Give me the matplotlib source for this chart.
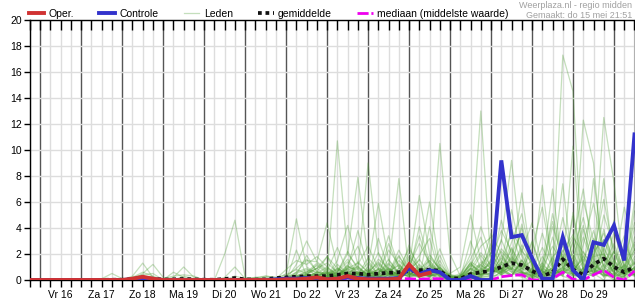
import numpy as np
import matplotlib
matplotlib.use('Agg')
import matplotlib.pyplot as plt
from matplotlib.ticker import MultipleLocator, FuncFormatter, NullFormatter

plt.rcParams['font.family'] = ['Liberation Sans', 'DejaVu Sans']

# 6-hourly time steps, hours relative to Vr 16 00:00 (first step = do 15 18:00)
uren = np.arange(-6, 349, 6)
dag_labels = ['Vr 16', 'Za 17', 'Zo 18', 'Ma 19', 'Di 20', 'Wo 21', 'Do 22',
              'Vr 23', 'Za 24', 'Zo 25', 'Ma 26', 'Di 27', 'Wo 28', 'Do 29']

oper = [0, 0,0,0,0, 0,0,0,0, 0,.1,.25,.1, 0,0,0,0, 0,0,0,0, 0,0,0,0,
        .05,.05,.1,.2, .05,.1,.3,.1, .05,.05,.05,.1, 1.2,.35,.55]

controle = [0, 0,0,0,0, 0,0,0,0, 0,.05,.15,.05, 0,0,0,0, 0,0,0,0, 0,0,0,.05,
            .1,.1,.15,.1, .05,.1,.2,.15, .1,.1,.1,.15, .9,.45,.75,.6,
            0,0,.3,0, 0,9.2,3.3,3.45, 1.7,.1,.1,3.3, .75,0,2.9,2.7, 4.2,1.5,11.2]

gemiddelde = [0, 0,0,0,0, 0,0,.01,.02, .02,.08,.15,.1, .03,.05,.08,.05, .02,.02,.08,.15,
              .05,.03,.05,.15, .2,.25,.3,.3, .3,.4,.5,.5, .4,.5,.55,.6, .7,.75,.8,.7,
              .15,.1,.45,.6, .7,1.0,1.3,1.15, .7,.3,.6,1.6, .8,.4,1.2,1.65, 1.0,.6,1.0]

mediaan = [0, 0,0,0,0, 0,0,0,0, 0,0,0,0, 0,0,0,0, 0,0,0,0, 0,0,0,0,
           0,0,0,0, 0,0,.05,.05, 0,0,0,.1, .1,.05,.1,.1,
           0,0,0,0, 0,.25,.35,.4, 0,0,.1,.6, .05,0,.4,.75, .2,0,.7]

leden = [
    [0, 0,0,0,0, 0,0,.1,.5, .1,0,0,0, 0,0,0,0, 0,0,0,0, 0,0,0,0, 0,.2,.4,.1, 0,.3,1.1,.6, .2,0,.4,1.5, .8,.3,0,.6, 0,0,.2,1.2, 2.1,.8,.3,1.5, .4,0,1.8,2.6, 1.1,.3,2.2,3.1, .9,0,.5],
    [0, 0,0,0,0, 0,0,0,0, 0,.3,1.3,.2, 0,0,0,0, 0,0,0,0, 0,0,0,0, 0,0,.2,.6, 1.8,.9,.3,.2, 0,.5,2.3,1.2, .4,.8,.6,0, 0,.2,.9,.4, 1.5,3.8,2.2,.6, 0,.8,4.1,1.7, .6,1.9,.5,0, 1.2,3.4,.8],
    [0, 0,0,0,0, 0,0,0,0, 0,0,.5,1.2, .2,0,0,0, 0,0,0,0, 0,0,0,0, .3,.9,1.6,.7, .2,1.2,.5,.3, .8,.2,0,.9, 2.4,1.1,.3,.6, 0,0,.5,.2, 0,.7,2.9,5.1, 1.3,.4,0,.9, 2.3,4.8,1.6,.5, 0,.7,2.1],
    [0, 0,0,0,0, 0,0,0,0, 0,.2,.6,.3, 0,0,.3,.1, 0,0,0,0, 0,0,.1,.1, 0,2.3,.3,.1, 0,.4,.9,1.3, .6,.2,.8,.4, 1.1,2.8,1.3,.2, 0,.3,1.1,2.6, 3.3,1.4,.6,.2, 0,.4,.6,2.2, 3.5,1.2,.4,1.1, .3,1.6,4.4],
    [0, 0,0,0,0, 0,0,0,0, 0,.2,.4,.5, 0,.6,.2,0, 0,0,0,0, 0,0,0,0, .5,4.7,1.0,.5, .3,.8,.2,.5, 1.3,.4,.2,.7, .2,.6,1.9,.8, 0,0,.2,.8, 1.2,.5,1.6,.9, 3.0,.7,0,.5, 1.4,.6,3.2,1.8, 0,.3,1.0],
    [0, 0,0,0,0, 0,0,0,0, 0,0,0,0, 0,.2,1.0,.2, 0,0,0,0, .1,.2,.1,0, 0,1.2,3.0,1.4, .8,.3,.6,.2, 0,.5,1.2,.6, 1.8,.9,.2,1.0, .3,0,.8,.4, .9,2.2,1.3,4.0, 1.1,.2,0,1.3, .4,2.7,5.9,2.1, .6,0,.8],
    [0, 0,0,0,0, 0,0,0,0, 0,0,0,0, .1,.3,.4,.3, 0,0,2.0,4.6, .2,0,0,0, 0,.6,1.5,1.4, 4.4,1.0,.3,.6, .2,0,.4,1.8, .7,1.6,.4,.2, 0,0,.3,1.4, .6,1.3,3.7,1.2, .4,0,1.1,.3, 0,.9,1.9,6.2, 2.0,.4,1.3],
    [0, 0,0,0,0, 0,0,0,0, 0,0,0,0, 0,0,0,0, 0,0,.2,1.0, .1,0,.2,.1, .8,1.5,1.2,1.8, 1.0,.3,1.1,.4, .6,1.4,.5,.3, .9,.2,1.5,.6, 0,.4,1.3,.5, 2.1,.8,.3,1.6, .2,1.8,.6,.3, 5.2,1.3,.5,2.4, 1.0,.2,3.3],
    [0, 0,0,0,0, 0,0,0,0, 0,0,0,0, 0,0,0,0, 0,0,0,.3, .1,.2,.3,.2, .2,.5,.8,.6, .5,10.7,2.0,1.0, .3,.8,.4,.2, 1.2,.6,.3,.8, 0,.2,.6,1.9, .8,3.1,1.2,.5, 0,1.2,4.5,1.4, .6,.2,1.9,3.6, 1.5,.4,2.4],
    [0, 0,0,0,0, 0,0,0,0, 0,0,0,0, 0,0,0,0, 0,0,0,0, 0,0,.1,0, 0,0,.4,.9, .3,1.5,4.2,1.2, 2.6,.9,.5,.3, .9,3.4,1.1,.4, .2,0,.9,.5, 1.6,.7,2.4,1.1, .5,.1,.8,3.4, 1.2,.5,.3,1.7, 4.6,.9,.4],
    [0, 0,0,0,0, 0,0,0,0, 0,0,0,0, 0,0,0,0, 0,0,0,0, 0,0,0,0, .2,.3,.7,.4, .2,.6,2.0,7.9, 1.5,.4,.9,.3, 1.1,.3,.6,2.4, .4,0,.2,.6, 2.8,.9,.4,1.3, .6,2.5,1.0,.3, 3.1,7.0,1.5,.2, .8,1.7,.6],
    [0, 0,0,0,0, 0,0,0,0, 0,0,0,0, 0,0,0,0, 0,0,0,0, 0,0,0,0, 0,.2,.4,.3, .6,.3,1.0,.8, 9.0,2.0,.6,1.2, .4,.8,1.5,.3, 0,.3,1.2,.7, .3,1.9,.8,2.7, 1.2,.4,.6,1.8, .4,.2,1.8,2.0, .5,1.1,2.9],
    [0, 0,0,0,0, 0,0,0,0, 0,0,0,0, 0,0,0,0, 0,0,0,0, 0,0,0,0, 0,0,.3,.5, 1.0,.4,.8,.2, 1.0,5.9,1.5,.6, .3,1.2,.4,1.0, .2,0,.4,.2, 1.1,.6,1.8,.9, .6,7.3,.9,.4, 1.2,.5,.3,2.6, .8,.4,1.3],
    [0, 0,0,0,0, 0,0,0,0, 0,0,0,0, 0,0,0,0, 0,0,0,0, 0,0,0,0, .1,.3,.2,.6, .4,.8,.3,.5, .2,.6,1.0,7.8, .5,.3,1.7,.9, .3,.2,.8,1.2, .5,1.4,.7,.3, .2,1.0,7.0,1.0, .5,3.3,1.1,.7, 2.2,.6,.9],
    [0, 0,0,0,0, 0,0,0,0, 0,0,0,0, 0,0,0,0, 0,0,0,0, 0,0,0,0, 0,.2,.5,.3, .7,.2,.4,1.1, .3,.9,.6,.4, 1.0,6.5,2.0,.8, .3,.1,.6,.4, .8,.5,1.2,.6, .4,.6,.9,17.3, 14.5,.5,.8,.3, 1.5,.7,.4],
    [0, 0,0,0,0, 0,0,0,0, 0,0,0,0, 0,0,0,0, 0,0,0,0, 0,0,0,0, 0,0,.4,1.2, .6,.3,.2,.7, .4,.2,.5,.3, .8,1.5,6.0,1.0, .2,0,.5,.9, .4,1.2,.8,2.2, 1.4,.7,.3,1.0, 10.3,.5,.8,1.6, .7,2.0,.5],
    [0, 0,0,0,0, 0,0,0,0, 0,0,0,0, 0,0,0,0, 0,0,0,0, 0,0,0,0, 0,.3,.2,.5, .3,.6,1.4,.4, .7,.3,.2,.9, .4,.5,.5,10.5, 2.0,.3,.6,.4, 1.0,.8,1.5,.6, .3,.9,.5,.7, .3,12.3,9.0,.3, .9,.4,1.8],
    [0, 0,0,0,0, 0,0,0,0, 0,0,0,0, 0,0,0,0, 0,0,0,0, 0,0,0,0, .2,.6,.9,.3, .2,.4,.6,.3, .5,.8,.4,.6, .2,.4,.9,.3, .5,1.0,5.0,1.5, .9,.4,1.0,.5, .6,1.3,.4,.8, 1.2,.6,1.0,12.5, 7.5,.5,.8],
    [0, 0,0,0,0, 0,0,0,0, 0,0,0,0, 0,0,0,0, 0,0,0,0, 0,0,0,0, 0,0,.2,.4, .5,.9,.5,.2, .3,.6,.8,.4, .6,.3,.7,.5, .4,.3,2.0,13.0, 1.0,.6,2.5,.7, .3,.8,.5,.6, 1.0,.5,7.8,2.0, .4,.9,.3],
    [0, 0,0,0,0, 0,0,0,0, 0,0,0,0, 0,0,0,0, 0,0,0,0, 0,0,0,0, 0,.1,.3,.2, .4,.2,.7,.5, .3,.4,.5,.2, .7,.4,.3,.6, 0,.2,.5,.4, 1.0,3.0,9.2,2.0, .5,1.1,.6,.9, .4,.3,1.2,7.8, 1.0,.6,1.4],
    [0, 0,0,0,0, 0,0,0,0, 0,0,0,0, 0,0,0,0, 0,0,0,0, 0,.1,.3,.2, .4,.8,.5,.9, 1.3,.6,2.2,.8, .4,1.6,.9,.3, 1.1,.5,.3,1.9, .2,0,.6,1.1, .7,2.4,1.5,6.7, 1.0,.4,1.3,7.4, .8,1.6,.6,.9, 2.2,.4,5.3],
    [0, 0,0,0,0, 0,0,0,0, 0,0,0,0, 0,0,0,0, 0,0,0,0, 0,0,0,0, 0,.2,.6,1.1, .5,.3,.9,.4, 1.7,.8,.3,.6, .9,.4,1.2,.5, .3,.1,.4,.8, .6,1.7,.9,.4, 2.9,.6,.3,1.4, .9,3.9,1.2,.5, 1.1,.6,2.7],
    [0, 0,0,0,0, 0,0,0,0, 0,0,0,0, 0,0,0,0, 0,0,0,0, 0,0,0,0, 0,0,.1,.3, .2,.5,.3,1.4, .6,.3,2.8,.9, .4,.9,.3,1.5, .1,.3,1.1,.6, 1.4,.5,2.0,3.6, .7,.2,.9,2.0, .5,1.4,3.8,1.0, .3,.6,.9],
    [0, 0,0,0,0, 0,0,0,0, 0,0,0,0, 0,0,0,0, 0,0,0,0, 0,0,0,0, 0,0,0,.2, .3,.9,.4,.6, .3,1.2,.5,.4, 2.7,.6,.4,.3, 0,.2,.9,2.1, 1.1,.4,1.4,.6, .3,.8,2.6,1.3, 2.0,.5,.7,1.5, .6,2.8,1.2],
    [0, 0,0,0,0, 0,0,0,0, 0,0,0,0, 0,0,0,0, 0,0,0,0, 0,0,0,0, .1,.4,.2,.3, .6,.2,.3,.5, .8,.3,.6,1.9, .5,.2,.8,.4, .3,0,.2,.3, .9,.6,1.1,2.4, .5,.3,1.7,.6, 2.9,.8,.4,3.1, 1.4,.3,.7],
    [0, 0,0,0,0, 0,0,0,0, 0,0,0,0, 0,0,0,0, 0,0,0,0, 0,0,0,0, 0,.1,.2,.1, .9,.4,.6,.2, .5,2.1,.7,.3, .6,1.0,.4,.9, 0,.4,.3,.7, .4,1.0,.6,1.2, .8,.4,3.3,.9, .6,1.8,.5,2.0, .9,1.0,2.3],
    [0, 0,0,0,0, 0,0,0,0, 0,0,0,0, 0,0,0,0, 0,0,0,0, 0,0,0,0, 0,0,.2,.2, .1,.3,.8,1.0, .4,.6,1.3,.5, 1.6,.7,.2,.5, .2,.1,.6,.3, .5,.8,1.7,.9, 1.5,.6,.2,.8, .4,2.2,.9,.3, .5,.2,1.6],
    [0, 0,0,0,0, 0,0,0,0, 0,0,0,0, 0,0,0,0, 0,0,0,0, 0,0,0,0, 0,.1,.1,.3, .5,.2,.4,.3, .2,.4,.9,.6, .3,.5,1.1,.4, .1,0,.3,.5, .3,.9,.4,.6, .2,.5,.9,1.8, .4,.6,1.4,.5, .2,.8,.4],
    [0, 0,0,0,0, 0,0,0,0, 0,0,0,0, 0,0,0,0, 0,0,0,0, 0,0,0,0, 0,0,.1,.2, .3,.6,.2,.5, .4,.2,.7,1.1, .4,.8,.3,.6, 0,.2,1.3,.4, .9,.4,.3,1.5, .6,.2,.4,1.0, 1.7,.5,.9,.4, .3,1.2,.6],
    [0, 0,0,0,0, 0,0,0,0, 0,0,0,0, 0,0,0,0, 0,0,0,0, 0,0,0,0, 0,.2,.3,.2, .2,.4,.5,.3, .6,.3,.4,.2, .5,.3,.6,.9, .2,0,.1,.4, .5,1.2,.8,.3, .9,.3,.6,2.3, .8,.4,.5,1.2, .6,.3,1.0],
    [0, 0,0,0,0, 0,0,0,0, 0,0,0,0, 0,0,0,0, 0,0,0,0, 0,0,0,0, .1,.2,.4,.2, .3,.2,.3,.6, .2,.5,.3,.4, .3,.4,.7,.3, .1,.1,.2,.3, .2,.6,.4,.9, .3,.7,.2,.6, .5,.9,.3,.8, .4,.2,.6],
    [0, 0,0,0,0, 0,0,0,0, 0,0,0,0, 0,0,0,0, 0,0,0,0, 0,0,0,0, 0,0,.1,.1, .2,.3,.2,.4, .3,.2,.5,.3, .4,.2,.3,.5, .1,0,.1,.2, .3,.4,.9,.5, .2,.3,.5,.7, .3,.5,.7,.4, .2,.5,.3],
    [0, 0,0,0,0, 0,0,0,0, 0,0,0,0, 0,0,0,0, 0,0,0,0, 0,0,0,0, 0,0,.3,.1, .2,.7,1.6,.5, .3,3.2,.8,.4, .6,.2,4.1,.7, .2,.5,1.6,3.3, .8,4.6,1.9,.7, 2.4,5.6,1.2,.5, 4.9,.8,2.6,.6, 3.7,1.1,.4],
    [0, 0,0,0,0, 0,0,0,0, 0,0,0,0, 0,0,0,0, 0,0,0,0, 0,0,0,0, .2,.4,1.9,.6, .5,.3,.9,3.8, .9,.4,1.6,.5, 2.1,.7,.3,1.2, .4,.2,3.0,.8, 2.5,1.2,5.4,1.8, .5,3.6,1.1,4.8, 1.6,4.2,.7,3.9, .9,5.6,2.3],
    [0, 0,0,0,0, 0,0,0,0, 0,0,0,0, 0,0,0,0, 0,0,0,0, 0,0,0,0, 0,.3,.6,1.3, .7,2.5,.6,.9, .4,.8,3.4,1.0, .5,4.1,1.3,.6, .2,.3,.9,4.1, 1.8,.6,3.9,2.2, 4.4,1.0,.3,2.9, .7,6.1,3.0,1.1, 2.8,.6,4.0],
    [0, 0,0,0,0, 0,0,0,0, 0,0,0,0, 0,0,0,0, 0,0,0,0, 0,0,0,0, 0,0,.5,.9, 1.8,.4,1.2,2.6, .6,1.3,.5,2.3, .8,1.9,3.2,.4, .3,.1,1.4,.9, 3.6,2.0,.8,4.3, 1.2,.5,5.1,1.6, 3.3,2.1,.9,5.0, 2.4,.8,6.0],
]

W, H = 635, 300
fig = plt.figure(figsize=(W / 100, H / 100), dpi=100)
ax = fig.add_axes([30 / W, 20 / H, 604.5 / W, 260 / H])

l_leden = None
for lid in leden:
    ln, = ax.plot(uren, lid, color='#4e9e34', alpha=0.33, lw=0.9, zorder=2)
    if l_leden is None:
        l_leden = ln
l_mean, = ax.plot(uren, gemiddelde, color='#111111', lw=2.7, linestyle=(0, (1, 1)),
                  zorder=4)
l_med, = ax.plot(uren, mediaan, color='#ee00ee', lw=2.0, linestyle=(0, (4, 1)),
                 zorder=4)
l_ctrl, = ax.plot(uren, controle, color='#3333cc', lw=2.8, zorder=5,
                  solid_joinstyle='miter')
l_oper, = ax.plot(uren[:len(oper)], oper, color='#d03232', lw=2.8, zorder=6,
                  solid_joinstyle='miter')

ax.set_xlim(-6, 348)
ax.set_ylim(0, 20)

ax.xaxis.set_major_locator(MultipleLocator(24))
ax.xaxis.set_minor_locator(MultipleLocator(6))
ax.xaxis.set_major_formatter(NullFormatter())


def dag_fmt(v, pos):
    h = int(round(v))
    if h % 24 == 12 and 0 <= h // 24 < len(dag_labels):
        return dag_labels[h // 24]
    return ''


ax.xaxis.set_minor_formatter(FuncFormatter(dag_fmt))
ax.yaxis.set_major_locator(MultipleLocator(2))

ax.set_axisbelow(True)
ax.grid(which='minor', axis='x', color='#dddddd', lw=1)
ax.grid(which='major', axis='x', color='#555555', lw=1)
ax.grid(which='major', axis='y', color='#dddddd', lw=1)

ax.tick_params(axis='x', which='both', direction='out', length=5, width=1,
               color='black', labelsize=7.5, pad=2, top=False)
ax.tick_params(axis='y', which='both', direction='out', length=4, width=1,
               labelsize=7.5, pad=2)

# inward tick marks along the top edge
ax2 = ax.twiny()
ax2.set_xlim(ax.get_xlim())
ax2.xaxis.set_major_locator(MultipleLocator(6))
ax2.xaxis.set_major_formatter(NullFormatter())
ax2.tick_params(axis='x', direction='in', length=7, width=1, color='black',
                labeltop=False, top=True, bottom=False)
ax2.patch.set_visible(False)
for s in ax2.spines.values():
    s.set_visible(False)

for s in ax.spines.values():
    s.set_linewidth(1)
    s.set_color('black')

leg = ax.legend(handles=[l_oper, l_ctrl, l_leden, l_mean, l_med],
                labels=['Oper.', 'Controle', 'Leden', 'gemiddelde',
                        'mediaan (middelste waarde)'],
                ncol=5, loc='lower left', bbox_to_anchor=(-0.004, 1.0),
                frameon=False, fontsize=7.5, handlelength=1.5,
                handletextpad=0.4, columnspacing=2.45, borderaxespad=0.1,
                borderpad=0.0)

fig.text(632 / W, 1 - 0.5 / H, 'Weerplaza.nl - regio midden', ha='right',
         va='top', color='#a0a0a0', fontsize=6.5)
fig.text(632 / W, 1 - 11 / H, 'Gemaakt: do 15 mei 21:51', ha='right',
         va='top', color='#a0a0a0', fontsize=6.5)

fig.savefig('out.png', dpi=100)
